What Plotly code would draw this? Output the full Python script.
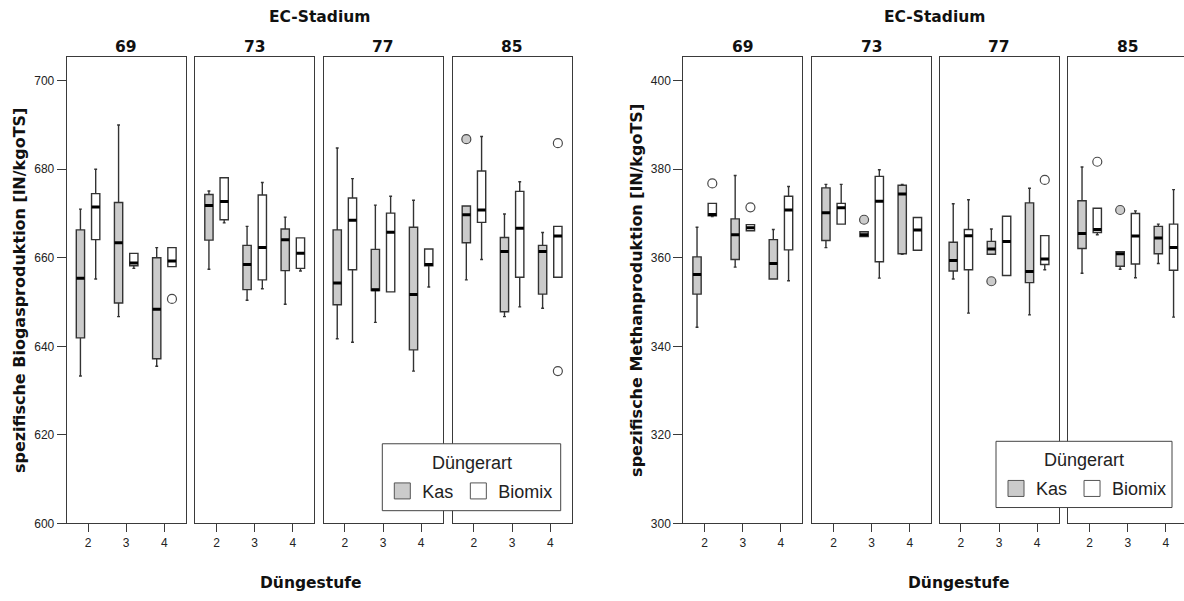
import plotly.graph_objects as go

# ---------------- data ----------------
stadien = ["69", "73", "77", "85"]
stufen = [2, 3, 4]
serien = ["Kas", "Biomix"]

# spezifische Biogasproduktion, rows = EC-Stadium, cols = Düngestufe 2,3,4
bio_kas_lo = [[633.3, 646.7, 635.5], [657.4, 650.4, 649.5], [641.7, 645.4, 634.4], [655.0, 646.7, 648.6]]
bio_kas_q1 = [[641.9, 649.8, 637.2], [664.0, 652.8, 657.1], [649.4, 652.6, 639.2], [663.4, 647.8, 651.8]]
bio_kas_med = [[655.4, 663.4, 648.4], [671.8, 658.5, 664.1], [654.3, 652.8, 651.7], [669.7, 661.4, 661.4]]
bio_kas_q3 = [[666.3, 672.5, 660.0], [674.3, 662.8, 666.5], [666.3, 661.9, 666.9], [671.7, 664.6, 662.8]]
bio_kas_hi = [[671.0, 690.0, 662.3], [675.1, 667.1, 669.2], [684.8, 671.9, 673.0], [671.7, 669.9, 665.7]]
bio_bio_lo = [[655.2, 657.6, 658.0], [667.9, 653.0, 657.0], [640.9, 652.3, 653.4], [659.6, 648.9, 655.6]]
bio_bio_q1 = [[664.1, 658.2, 658.0], [668.6, 655.0, 657.6], [657.3, 652.3, 658.2], [668.0, 655.6, 655.6]]
bio_bio_med = [[671.5, 658.8, 659.3], [672.7, 662.3, 661.0], [668.5, 665.8, 658.5], [670.8, 666.7, 664.9]]
bio_bio_q3 = [[674.5, 661.0, 662.3], [678.1, 674.2, 664.5], [673.5, 670.1, 662.0], [679.6, 675.0, 667.1]]
bio_bio_hi = [[680.0, 661.0, 662.3], [678.1, 677.0, 664.5], [677.9, 673.9, 662.0], [687.4, 677.2, 667.1]]
bio_kas_out_stadium = ["85"]
bio_kas_out_stufe = [2]
bio_kas_out_val = [686.8]
bio_bio_out_stadium = ["69", "85", "85"]
bio_bio_out_stufe = [4, 4, 4]
bio_bio_out_val = [650.7, 685.9, 634.4]

# spezifische Methanproduktion
met_kas_lo = [[344.3, 357.9, 355.2], [362.3, 364.8, 360.8], [355.2, 360.8, 347.1], [356.5, 357.4, 358.7]]
met_kas_q1 = [[351.8, 359.6, 355.2], [363.9, 364.8, 360.9], [357.0, 360.8, 354.4], [362.1, 358.1, 360.9]]
met_kas_med = [[356.2, 365.2, 358.7], [370.2, 365.2, 374.4], [359.4, 362.0, 356.9], [365.5, 360.9, 364.5]]
met_kas_q3 = [[360.2, 368.8, 364.1], [375.8, 365.9, 376.4], [363.5, 363.7, 372.4], [372.9, 361.4, 367.1]]
met_kas_hi = [[366.9, 378.6, 366.4], [376.6, 365.9, 376.6], [372.2, 366.5, 375.7], [380.5, 361.4, 367.6]]
met_bio_lo = [[369.3, 366.1, 354.8], [367.6, 355.4, 361.7], [347.5, 356.0, 357.3], [365.2, 355.5, 346.6]]
met_bio_q1 = [[369.5, 366.1, 361.8], [367.6, 359.1, 361.7], [357.3, 356.0, 358.5], [365.7, 358.6, 357.2]]
met_bio_med = [[369.8, 366.8, 370.8], [371.3, 372.8, 366.3], [365.0, 363.7, 359.7], [366.4, 364.9, 362.3]]
met_bio_q3 = [[372.3, 367.5, 373.9], [372.3, 378.4, 369.1], [366.4, 369.4, 365.0], [371.2, 370.0, 367.6]]
met_bio_hi = [[372.3, 367.5, 376.1], [376.6, 379.9, 369.1], [373.1, 369.4, 365.0], [371.2, 370.6, 375.4]]
met_kas_out_stadium = ["73", "77", "85"]
met_kas_out_stufe = [3, 3, 3]
met_kas_out_val = [368.6, 354.7, 370.8]
met_bio_out_stadium = ["69", "69", "77", "85"]
met_bio_out_stufe = [2, 3, 4, 2]
met_bio_out_val = [376.8, 371.4, 377.6, 381.7]

bio_yticks = [600, 620, 640, 660, 680, 700]
met_yticks = [300, 320, 340, 360, 380, 400]

# ---------------- styling / layout ----------------
W, H = 1184, 601
Y_TOP, Y_BOT = 58, 529.5
FACET_W = 119
X_LO, X_HI = 1.44, 4.56
PX_PER_UNIT = FACET_W / (X_HI - X_LO)
OFFSET = {"Kas": -0.2, "Biomix": 0.2}
BW = 0.217
FILL = {"Kas": "#cbcbcb", "Biomix": "#ffffff"}
LINE = "#333333"
FRAME = "#3a3a3a"
TICKFONT = dict(family="Liberation Sans", size=12, color="#222222")
LEGFONT = dict(family="Liberation Sans", size=18, color="#222222")
BOLD = "DejaVu Sans"

panels = [
    dict(x0s=[66.7, 195.2, 323.5, 452.6], yrange=[600, 705.3], yticks=bio_yticks,
         ytitle="spezifische Biogasproduktion [lN/kgoTS]", legend="legend",
         stats={"Kas": (bio_kas_lo, bio_kas_q1, bio_kas_med, bio_kas_q3, bio_kas_hi),
                "Biomix": (bio_bio_lo, bio_bio_q1, bio_bio_med, bio_bio_q3, bio_bio_hi)},
         outl={"Kas": (bio_kas_out_stadium, bio_kas_out_stufe, bio_kas_out_val),
               "Biomix": (bio_bio_out_stadium, bio_bio_out_stufe, bio_bio_out_val)},
         title_x=319, xtitle_x=310, leg_box=(382.3, 449, 560.7, 516.7)),
    dict(x0s=[683.3, 812.2, 939.5, 1068.3], yrange=[300, 405.3], yticks=met_yticks,
         ytitle="spezifische Methanproduktion [lN/kgoTS]", legend="legend2",
         stats={"Kas": (met_kas_lo, met_kas_q1, met_kas_med, met_kas_q3, met_kas_hi),
                "Biomix": (met_bio_lo, met_bio_q1, met_bio_med, met_bio_q3, met_bio_hi)},
         outl={"Kas": (met_kas_out_stadium, met_kas_out_stufe, met_kas_out_val),
               "Biomix": (met_bio_out_stadium, met_bio_out_stufe, met_bio_out_val)},
         title_x=934, xtitle_x=958, leg_box=(996, 446.5, 1172, 513.5)),
]

fig = go.Figure()
layout = {}
annotations = []
shapes = []
ydom = [(H - Y_BOT) / H, (H - Y_TOP) / H]

idx = 0
for p_i, p in enumerate(panels):
    for f, st in enumerate(stadien):
        idx += 1
        xs_name = "x" if idx == 1 else f"x{idx}"
        ys_name = "y" if idx == 1 else f"y{idx}"
        xa_key = "xaxis" if idx == 1 else f"xaxis{idx}"
        ya_key = "yaxis" if idx == 1 else f"yaxis{idx}"
        x0 = p["x0s"][f]
        x1 = min(x0 + FACET_W, W)
        xr_hi = X_LO + (x1 - x0) / PX_PER_UNIT
        first = f == 0
        master = "y" if p_i == 0 else "y5"
        layout[xa_key] = dict(
            domain=[x0 / W, x1 / W], anchor=ys_name, range=[X_LO, xr_hi],
            tickmode="array", tickvals=stufen, ticktext=[str(s) for s in stufen],
            ticks="outside", ticklen=8, tickwidth=1, tickcolor=FRAME,
            showline=True, mirror=True, linecolor=FRAME, linewidth=1,
            showgrid=False, zeroline=False, tickfont=TICKFONT, fixedrange=True)
        ya = dict(
            domain=ydom, anchor=xs_name, range=p["yrange"],
            showline=True, mirror=(x0 + FACET_W <= W), linecolor=FRAME, linewidth=1,
            showgrid=False, zeroline=False, fixedrange=True)
        if first:
            ya.update(tickmode="array", tickvals=p["yticks"], ticks="outside", ticklen=9,
                      tickwidth=1, tickcolor=FRAME, tickfont=TICKFONT, showticklabels=True,
                      title=dict(text=p["ytitle"], standoff=4,
                                 font=dict(family=BOLD, size=16, color="#111111", weight="bold")))
        else:
            ya.update(matches=master, showticklabels=False, ticks="")
        layout[ya_key] = ya

        # facet label
        annotations.append(dict(text=st, x=(x0 + FACET_W / 2) / W, y=(H - 48) / H,
                                xref="paper", yref="paper", showarrow=False,
                                xanchor="center", yanchor="middle",
                                font=dict(family=BOLD, size=15.5, color="#111111", weight="bold")))

        for serie in serien:
            lo, q1, med, q3, hi = p["stats"][serie]
            xpos = [s + OFFSET[serie] for s in stufen]
            fig.add_trace(go.Box(
                x=xpos, q1=q1[f], median=med[f], q3=q3[f],
                lowerfence=lo[f], upperfence=hi[f],
                width=BW, whiskerwidth=0.35, boxpoints=False,
                fillcolor=FILL[serie], line=dict(color=LINE, width=1.4),
                name=serie, legendgroup=f"{p_i}-{serie}", showlegend=False,
                xaxis=xs_name, yaxis=ys_name, hoverinfo="skip"))
            # thick median bars
            mx, my = [], []
            for j, c in enumerate(xpos):
                mx += [c - BW / 2, c + BW / 2, None]
                my += [med[f][j], med[f][j], None]
            fig.add_trace(go.Scatter(x=mx, y=my, mode="lines",
                                     line=dict(color="#000000", width=3),
                                     showlegend=False, hoverinfo="skip",
                                     xaxis=xs_name, yaxis=ys_name))
            # outliers
            o_st, o_stufe, o_val = p["outl"][serie]
            ox = [s + OFFSET[serie] for s_st, s in zip(o_st, o_stufe) if s_st == st]
            oy = [v for s_st, v in zip(o_st, o_val) if s_st == st]
            if ox:
                fig.add_trace(go.Scatter(
                    x=ox, y=oy, mode="markers",
                    marker=dict(symbol="circle", size=9, color=FILL[serie],
                                line=dict(color="#4a4a4a", width=1.2)),
                    showlegend=False, hoverinfo="skip", xaxis=xs_name, yaxis=ys_name))

            # legend entry (square swatch like the original)
            if first:
                fig.add_trace(go.Scatter(
                    x=[None], y=[None], mode="markers", name=serie,
                    legendgroup=f"{p_i}-{serie}", legend=p["legend"], showlegend=True,
                    marker=dict(symbol="square", size=16, color=FILL[serie],
                                line=dict(color="#555555", width=1)),
                    xaxis=xs_name, yaxis=ys_name, hoverinfo="skip"))

    annotations.append(dict(text="EC-Stadium", x=p["title_x"] / W, y=(H - 17) / H,
                            xref="paper", yref="paper", showarrow=False,
                            xanchor="center", yanchor="middle",
                            font=dict(family=BOLD, size=15.5, color="#111111", weight="bold")))
    annotations.append(dict(text="Düngestufe", x=p["xtitle_x"] / W, y=(H - 590) / H,
                            xref="paper", yref="paper", showarrow=False,
                            xanchor="center", yanchor="middle",
                            font=dict(family=BOLD, size=15.5, color="#111111", weight="bold")))

    # legend frame + title
    lx0, ly0, lx1, ly1 = p["leg_box"]
    shapes.append(dict(type="rect", xref="paper", yref="paper", layer="above",
                       x0=lx0 / W, x1=lx1 / W, y0=(H - ly1) / H, y1=(H - ly0) / H,
                       fillcolor="#ffffff", line=dict(color="#444444", width=1)))
    annotations.append(dict(text="Düngerart", x=(lx0 + lx1) / 2 / W, y=(H - (ly0 + 19)) / H,
                            xref="paper", yref="paper", showarrow=False,
                            xanchor="center", yanchor="middle", font=LEGFONT))
    layout[p["legend"]] = dict(
        x=lx0 / W, y=(H - (ly0 + 48)) / H, xanchor="left", yanchor="middle",
        orientation="h", bgcolor="rgba(0,0,0,0)", borderwidth=0,
        font=LEGFONT, itemclick=False, itemdoubleclick=False)

fig.update_layout(
    width=W, height=H, margin=dict(l=0, r=0, t=0, b=0),
    paper_bgcolor="#ffffff", plot_bgcolor="#ffffff",
    boxmode="overlay", annotations=annotations, shapes=shapes, **layout)

fig.write_html(
    "out.html",
    config={"displayModeBar": False, "staticPlot": True},
    post_script="document.body.style.margin='0';document.body.style.padding='0';"
                "document.body.style.overflow='hidden';")
